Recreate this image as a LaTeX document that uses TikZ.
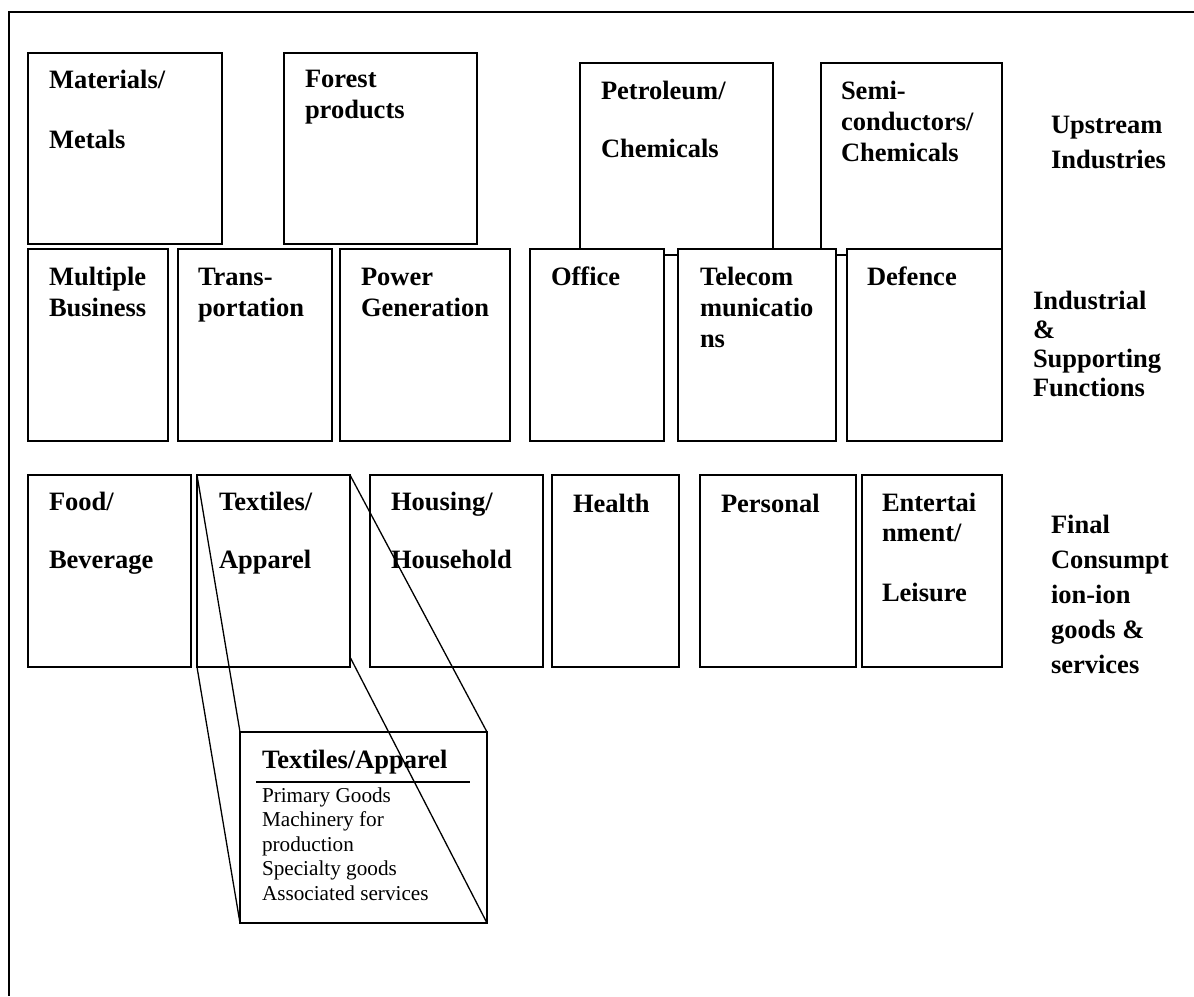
\documentclass[tikz,border=0pt]{standalone}
\usepackage{fontspec}
\setmainfont{Liberation Serif}
\begin{document}
\begin{tikzpicture}[x=1pt, y=-1pt,
  box/.style={draw, line width=1.7pt, fill=white, inner sep=0pt, outer sep=0pt, anchor=north west},
  lbl/.style={inner sep=0pt, outer sep=0pt, anchor=base west, font=\fontsize{26.5}{30}\selectfont\bfseries},
  side/.style={inner sep=0pt, outer sep=0pt, anchor=base west, font=\fontsize{26.5}{35}\selectfont\bfseries},
  zoomline/.style={line width=1.3pt},
  frame/.style={line width=1.7pt}]
\useasboundingbox (0,0) rectangle (1194,996);
% outer frame
\coordinate (fr) at (1194,12);
\coordinate (fc) at (9,12);
\coordinate (fb) at (9,996);
\draw[frame] (fr) -- (fc) -- (fb);
% upstream row
\node[box, minimum width=194pt, minimum height=191pt] (mat) at (28,53) {};
\node[box, minimum width=193pt, minimum height=191pt] (for) at (284,53) {};
\node[box, minimum width=193pt, minimum height=192pt] (pet) at (580,63) {};
\node[box, minimum width=181pt, minimum height=192pt] (sem) at (821,63) {};
% industrial row
\node[box, minimum width=140pt, minimum height=192pt] (mul) at (28,249) {};
\node[box, minimum width=154pt, minimum height=192pt] (tra) at (178,249) {};
\node[box, minimum width=170pt, minimum height=192pt] (pow) at (340,249) {};
\node[box, minimum width=134pt, minimum height=192pt] (off) at (530,249) {};
\node[box, minimum width=158pt, minimum height=192pt] (tel) at (678,249) {};
\node[box, minimum width=155pt, minimum height=192pt] (def) at (847,249) {};
% final consumption row
\node[box, minimum width=163pt, minimum height=192pt] (foo) at (28,475) {};
\node[box, minimum width=153pt, minimum height=192pt] (tex) at (197,475) {};
\node[box, minimum width=173pt, minimum height=192pt] (hou) at (370,475) {};
\node[box, minimum width=127pt, minimum height=192pt] (hea) at (552,475) {};
\node[box, minimum width=156pt, minimum height=192pt] (per) at (700,475) {};
\node[box, minimum width=140pt, minimum height=192pt] (ent) at (862,475) {};
% detail box
\node[box, minimum width=247pt, minimum height=191pt] (det) at (240,732) {};
% labels in boxes
\node[lbl] (tmat) at ([xshift=21pt,yshift=-35pt]mat.north west) {\parbox[t]{180pt}{Materials/\\[30pt]Metals}};
\node[lbl] (tfor) at ([xshift=21pt,yshift=-34pt]for.north west) {\parbox[t]{180pt}{Forest\\[1pt]products}};
\node[lbl] (tpet) at ([xshift=21pt,yshift=-36pt]pet.north west) {\parbox[t]{180pt}{Petroleum/\\[28pt]Chemicals}};
\node[lbl] (tsem) at ([xshift=20pt,yshift=-36pt]sem.north west) {\parbox[t]{180pt}{Semi-\\[1pt]conductors/\\[1pt]Chemicals}};
\node[lbl] (tmul) at ([xshift=21pt,yshift=-36pt]mul.north west) {\parbox[t]{180pt}{Multiple\\[1pt]Business}};
\node[lbl] (ttra) at ([xshift=20pt,yshift=-36pt]tra.north west) {\parbox[t]{180pt}{Trans-\\[1pt]portation}};
\node[lbl] (tpow) at ([xshift=21pt,yshift=-36pt]pow.north west) {\parbox[t]{180pt}{Power\\[1pt]Generation}};
\node[lbl] (toff) at ([xshift=21pt,yshift=-36pt]off.north west) {Office};
\node[lbl] (ttel) at ([xshift=22pt,yshift=-36pt]tel.north west) {\parbox[t]{180pt}{Telecom\\[1pt]municatio\\[1pt]ns}};
\node[lbl] (tdef) at ([xshift=20pt,yshift=-36pt]def.north west) {Defence};
\node[lbl] (tfoo) at ([xshift=21pt,yshift=-35pt]foo.north west) {\parbox[t]{180pt}{Food/\\[28pt]Beverage}};
\node[lbl] (ttex) at ([xshift=22pt,yshift=-35pt]tex.north west) {\parbox[t]{180pt}{Textiles/\\[28pt]Apparel}};
\node[lbl] (thou) at ([xshift=21pt,yshift=-35pt]hou.north west) {\parbox[t]{180pt}{Housing/\\[28pt]Household}};
\node[lbl] (thea) at ([xshift=21pt,yshift=-37pt]hea.north west) {Health};
\node[lbl] (tper) at ([xshift=21pt,yshift=-37pt]per.north west) {Personal};
\node[lbl] (tent) at ([xshift=20pt,yshift=-36pt]ent.north west) {\parbox[t]{180pt}{Entertai\\nment/\\[30pt]Leisure}};
% side labels
\node[side] (sup) at (1051,133) {\parbox[t]{140pt}{Upstream\\Industries}};
\node[side, font=\fontsize{26.5}{29}\selectfont\bfseries] (sind) at (1033,309) {\parbox[t]{160pt}{Industrial\\\&\\Supporting\\Functions}};
\node[side] (sfin) at (1051,533) {\parbox[t]{140pt}{Final\\Consumpt\\ion-ion\\goods \&\\services}};
% detail contents
\node[lbl] (dtit) at ([xshift=22pt,yshift=-36pt]det.north west) {Textiles/Apparel};
\coordinate (ul1) at ([xshift=16pt,yshift=-50pt]det.north west);
\coordinate (ul2) at ([xshift=230pt,yshift=-50pt]det.north west);
\draw[line width=1.8pt] (ul1) -- (ul2);
\node[inner sep=0pt, outer sep=0pt, anchor=base west, font=\fontsize{21.2}{24.5}\selectfont] (dlist) at ([xshift=22pt,yshift=-70pt]det.north west)
  {\parbox[t]{220pt}{Primary Goods\\Machinery for\\production\\Specialty goods\\Associated services}};
% zoom lines
\draw[zoomline] (tex.north west) -- (det.north west);
\draw[zoomline] (tex.south west) -- (det.south west);
\draw[zoomline] (tex.north east) -- (det.north east);
\draw[zoomline] ([yshift=10pt]tex.south east) -- (det.south east);
\end{tikzpicture}
\end{document}
